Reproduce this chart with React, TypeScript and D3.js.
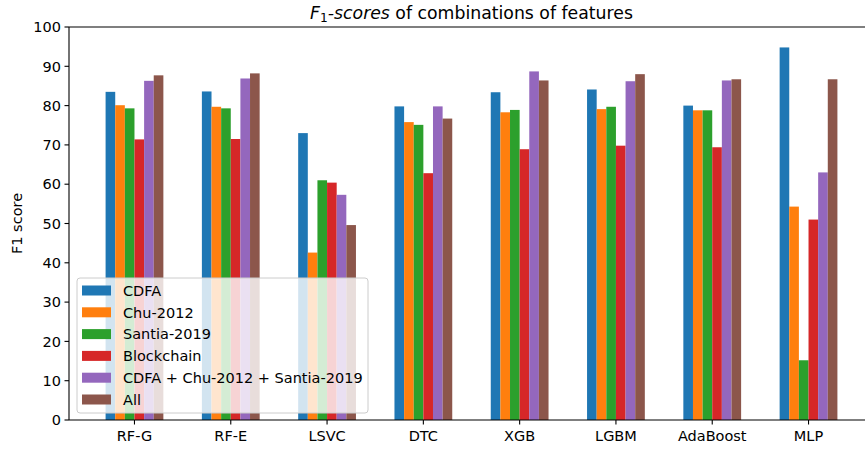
import React from "react";
import * as d3 from "d3";

const categories = ["RF-G", "RF-E", "LSVC", "DTC", "XGB", "LGBM", "AdaBoost", "MLP"];
const seriesNames = ["CDFA", "Chu-2012", "Santia-2019", "Blockchain", "CDFA + Chu-2012 + Santia-2019", "All"];
const colors = ["#1f77b4", "#ff7f0e", "#2ca02c", "#d62728", "#9467bd", "#8c564b"];
const cdfa = [83.5, 83.6, 73.0, 79.8, 83.4, 84.1, 80.0, 94.8];
const chu2012 = [80.1, 79.7, 42.6, 75.8, 78.3, 79.1, 78.8, 54.3];
const santia2019 = [79.3, 79.3, 61.0, 75.1, 78.9, 79.7, 78.8, 15.2];
const blockchain = [71.4, 71.5, 60.4, 62.8, 68.9, 69.8, 69.4, 51.0];
const combo = [86.3, 86.9, 57.3, 79.8, 88.7, 86.2, 86.4, 63.0];
const all = [87.7, 88.2, 49.6, 76.7, 86.4, 88.0, 86.7, 86.7];
const yTicks = [0, 10, 20, 30, 40, 50, 60, 70, 80, 90, 100];

const series = [cdfa, chu2012, santia2019, blockchain, combo, all];

const W = 865, H = 452;
const left = 69, right = 874, top = 27, bottom = 420;
const FONT = "DejaVu Sans, sans-serif";
const FS = 14.5;

export default function App() {
  const x = d3.scaleLinear().domain([-0.68, 7.68]).range([left, right]);
  const y = d3.scaleLinear().domain([0, 100]).range([bottom, top]);
  const bw = 0.1;

  const legendX = 77, legendY = 278, legendW = 291, legendH = 135;
  const rowH = 21.8;

  return (
    <svg width={W} height={H} style={{ position: "absolute", left: 0, top: 0 }} fontFamily={FONT}>
      <rect x={0} y={0} width={W} height={H} fill="#fff" />
      {series.map((vals, si) =>
        vals.map((v, ci) => {
          const x0 = x(ci + (si - 2.5) * bw - bw / 2);
          const x1 = x(ci + (si - 2.5) * bw + bw / 2);
          return (
            <rect key={`${si}-${ci}`} x={x0} y={y(v)} width={x1 - x0} height={y(0) - y(v)} fill={colors[si]} />
          );
        })
      )}
      {/* spines */}
      <line x1={left} y1={top} x2={left} y2={bottom} stroke="#000" strokeWidth={1.1} />
      <line x1={left} y1={bottom} x2={W} y2={bottom} stroke="#000" strokeWidth={1.1} />
      <line x1={left} y1={top} x2={W} y2={top} stroke="#000" strokeWidth={1.1} />
      {/* y ticks */}
      {yTicks.map((t) => (
        <g key={t}>
          <line x1={left - 4.5} x2={left} y1={y(t)} y2={y(t)} stroke="#000" strokeWidth={1.1} />
          <text x={left - 8} y={y(t)} dy="0.36em" textAnchor="end" fontSize={FS} fill="#000">{t}</text>
        </g>
      ))}
      {/* x ticks */}
      {categories.map((c, i) => (
        <g key={c}>
          <line x1={x(i)} x2={x(i)} y1={bottom} y2={bottom + 4.5} stroke="#000" strokeWidth={1.1} />
          <text x={x(i)} y={bottom + 21} textAnchor="middle" fontSize={FS} fill="#000">{c}</text>
        </g>
      ))}
      {/* y label */}
      <text transform={`translate(22,${(top + bottom) / 2}) rotate(-90)`} textAnchor="middle" fontSize={FS} fill="#000">F1 score</text>
      {/* title */}
      <text x={(left + right) / 2} y={19} textAnchor="middle" fontSize={17.3} fill="#000">
        <tspan fontStyle="italic">F</tspan>
        <tspan fontSize={12.2} dy={3}>1</tspan>
        <tspan dy={-3} fontStyle="italic">-scores</tspan>
        <tspan> of combinations of features</tspan>
      </text>
      {/* legend */}
      <rect x={legendX} y={legendY} width={legendW} height={legendH} rx={3} fill="#fff" fillOpacity={0.8} stroke="#cccccc" strokeWidth={1} />
      {seriesNames.map((n, i) => {
        const cy = legendY + 12.5 + i * rowH;
        return (
          <g key={n}>
            <rect x={82} y={cy - 5} width={29} height={10} fill={colors[i]} />
            <text x={123} y={cy} dy="0.36em" fontSize={FS} fill="#000">{n}</text>
          </g>
        );
      })}
    </svg>
  );
}
